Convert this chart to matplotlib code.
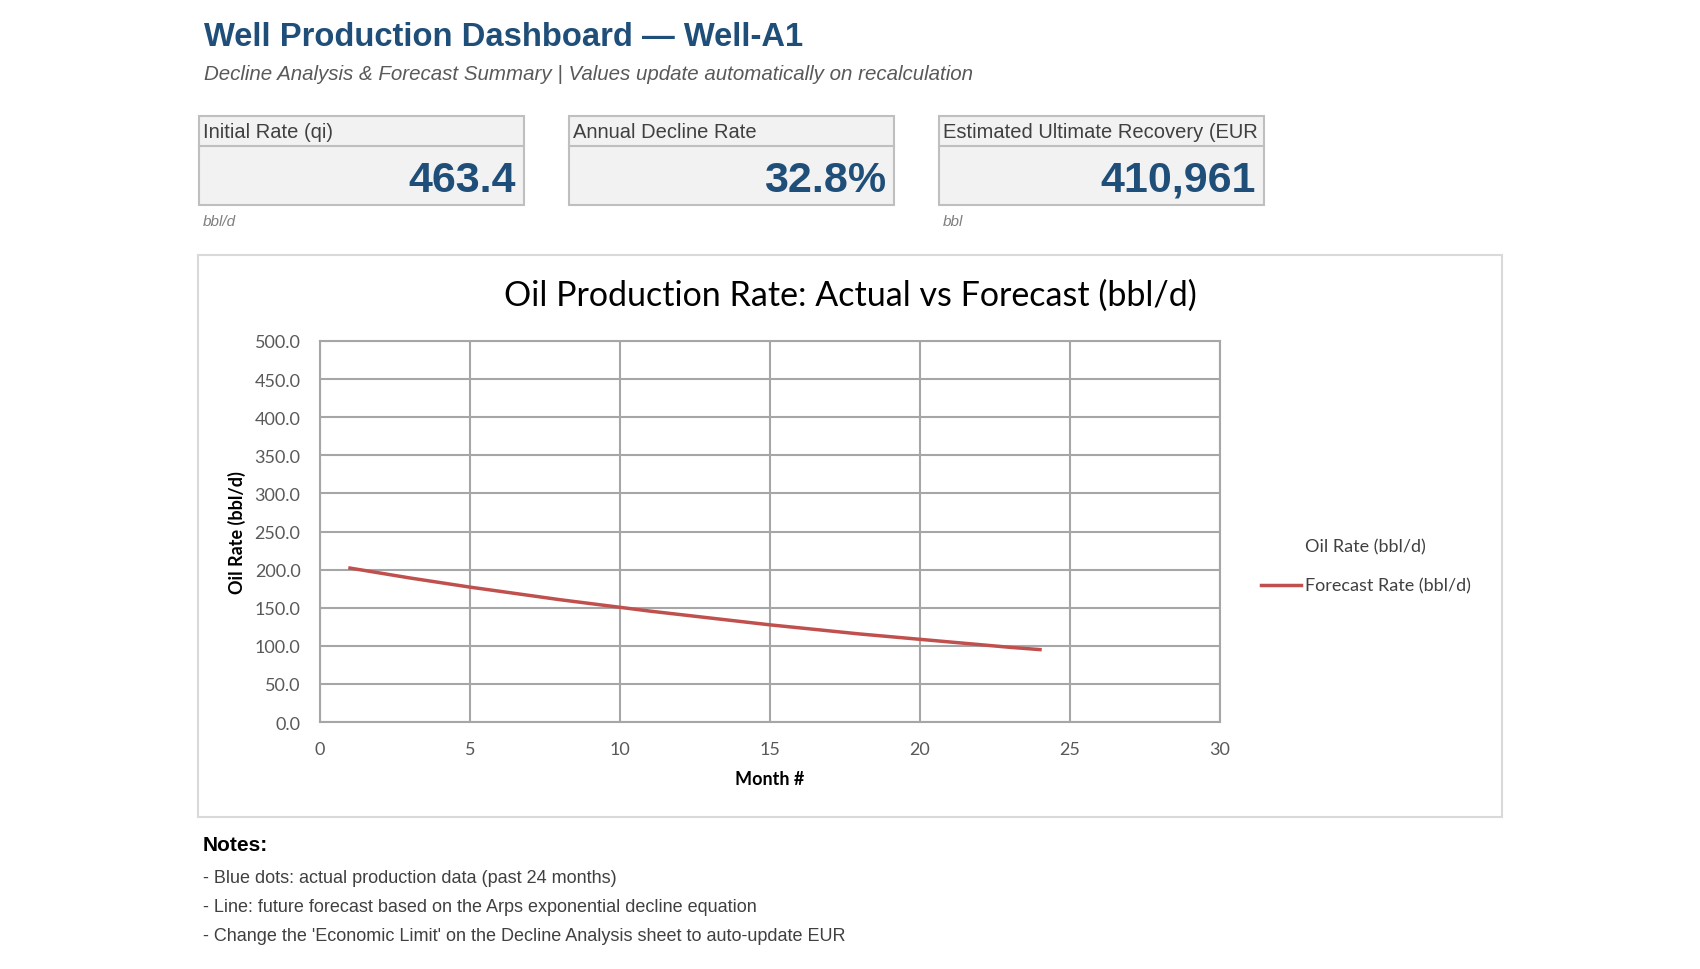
import matplotlib
matplotlib.use("Agg")
import matplotlib.pyplot as plt
from matplotlib.patches import Rectangle

# data
kpi_labels = ["Initial Rate (qi)", "Annual Decline Rate", "Estimated Ultimate Recovery (EUR"]
kpi_values = ["463.4", "32.8%", "410,961"]
kpi_units = ["bbl/d", "", "bbl"]

actual_month = []
actual_rate = []
forecast_month = [1, 2, 3, 4, 5, 6, 7, 8, 9, 10, 11, 12,
                  13, 14, 15, 16, 17, 18, 19, 20, 21, 22, 23, 24]
forecast_rate = [202.0, 195.5, 189.0, 183.0, 177.0, 171.5, 166.0, 160.5,
                 155.5, 150.5, 145.5, 141.0, 136.5, 132.0, 127.5, 123.5,
                 119.5, 115.5, 112.0, 108.5, 105.0, 101.5, 98.0, 95.0]

notes = ["- Blue dots: actual production data (past 24 months)",
         "- Line: future forecast based on the Arps exponential decline equation",
         "- Change the 'Economic Limit' on the Decline Analysis sheet to auto-update EUR"]

W, H = 1700, 970
fig = plt.figure(figsize=(W / 100, H / 100), dpi=100)
fig.patch.set_facecolor("white")

def fx(x):
    return x / W

def fy(y):
    return 1 - y / H

arial = "Liberation Sans"
chartfont = ["Lato", "DejaVu Sans"]
blue = "#1F4E79"

fig.text(fx(204), fy(37), "Well Production Dashboard \u2014 Well-A1", family=arial,
         weight="bold", fontsize=23.6, color=blue, va="center", ha="left")
fig.text(fx(204), fy(74), "Decline Analysis & Forecast Summary | Values update automatically on recalculation",
         family=arial, style="italic", fontsize=14.8, color="#595959", va="center", ha="left")

# KPI cards
box_x = [199, 569, 939]
box_w = 325
for i in range(3):
    x0 = box_x[i]
    fig.patches.append(Rectangle((fx(x0), fy(206)), fx(box_w), (206 - 117) / H, transform=fig.transFigure,
                                 facecolor="#F2F2F2", edgecolor="#BFBFBF", lw=1.5))
    fig.lines.append(plt.Line2D([fx(x0), fx(x0 + box_w)], [fy(146.5), fy(146.5)], transform=fig.transFigure,
                                color="#BFBFBF", lw=1.5))
    fig.text(fx(x0 + 4), fy(132), kpi_labels[i], family=arial, fontsize=14.5, color="#404040",
             va="center", ha="left")
    fig.text(fx(x0 + box_w - 8), fy(181), kpi_values[i], family=arial, weight="bold", fontsize=31,
             color=blue, va="center", ha="right")
    if kpi_units[i]:
        fig.text(fx(x0 + 4), fy(222), kpi_units[i], family=arial, style="italic", fontsize=11,
                 color="#7F7F7F", va="center", ha="left")

# chart panel
fig.patches.append(Rectangle((fx(197.5), fy(818)), fx(1502 - 197.5), (818 - 256) / H, transform=fig.transFigure,
                             facecolor="white", edgecolor="#D9D9D9", lw=1.5, zorder=-1))
fig.text(fx(850), fy(296), "Oil Production Rate: Actual vs Forecast (bbl/d)", family=chartfont,
         fontsize=24.5, color="#000000", ha="center", va="center")

ax = fig.add_axes([fx(320), fy(723), fx(1220 - 320), (723 - 342) / H])
ax.patch.set_alpha(0)
ax.plot(actual_month, actual_rate, linestyle="none", label="Oil Rate (bbl/d)")
ax.plot(forecast_month, forecast_rate, color="#C0504D", lw=2.5, label="Forecast Rate (bbl/d)")
ax.set_xlim(0, 30)
ax.set_ylim(0, 500)
ax.set_xticks(range(0, 31, 5))
ax.set_yticks(range(0, 501, 50))
ax.set_yticklabels([f"{v:.1f}" for v in range(0, 501, 50)])
ax.grid(True, color="#A6A6A6", lw=1.5)
ax.set_axisbelow(True)
for s in ax.spines.values():
    s.set_color("#A6A6A6")
    s.set_linewidth(1.5)
ax.tick_params(length=0, labelsize=13, labelcolor="#595959")
ax.tick_params(axis="x", pad=14)
ax.tick_params(axis="y", pad=14)
for lab in ax.get_xticklabels() + ax.get_yticklabels():
    lab.set_family(chartfont)
ax.set_xlabel("Month #", family=chartfont, weight="bold", fontsize=13, labelpad=9)
ax.set_ylabel("Oil Rate (bbl/d)", family=chartfont, weight="bold", fontsize=13, labelpad=6)
ax.legend(loc="center left", bbox_to_anchor=(fx(1245), fy(567)), bbox_transform=fig.transFigure,
          frameon=False, handlelength=2.2, handletextpad=0.2, labelspacing=1.3,
          prop={"family": chartfont, "size": 13}, labelcolor="#404040")

# notes
fig.text(fx(203), fy(846), "Notes:", family=arial, weight="bold", fontsize=15, color="#000000",
         va="center", ha="left")
for i, n in enumerate(notes):
    fig.text(fx(203), fy(879 + 29 * i), n, family=arial, fontsize=13, color="#404040",
             va="center", ha="left")

fig.savefig("out.png", dpi=100, facecolor="white")
